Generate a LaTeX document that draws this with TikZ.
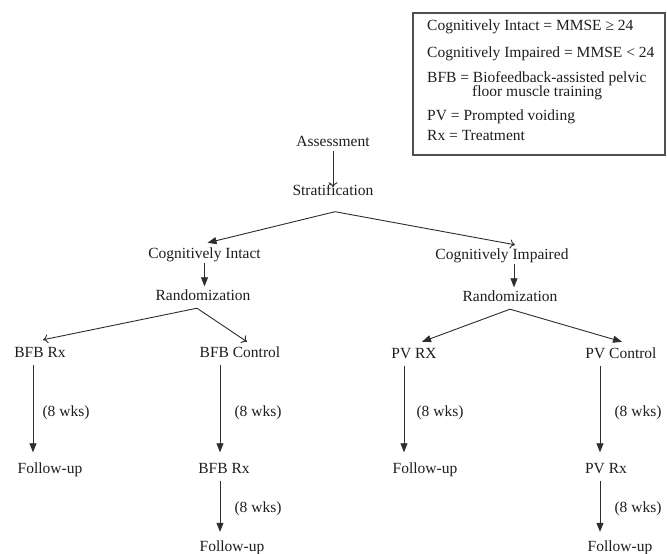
\documentclass[tikz,border=0pt]{standalone}
\usepackage{fontspec}
\setmainfont{Liberation Serif}
\usetikzlibrary{arrows.meta}
\definecolor{drawColor}{RGB}{45,45,45}
\definecolor{textColor}{RGB}{30,30,30}
\definecolor{boxColor}{RGB}{80,80,80}
\tikzset{
  lbl/.style={text=textColor,inner sep=1pt,text height=10pt,text depth=3pt,font=\fontsize{15.5}{18}\selectfont},
  leg/.style={lbl,anchor=west,inner sep=0pt,text height=9pt,text depth=2pt},
  openarr/.style={draw=drawColor,line width=0.9pt,-{To[length=5pt,width=9pt]}},
  fillarr/.style={draw=drawColor,line width=0.9pt,-{Triangle[length=9pt,width=7pt]}},
  downarr/.style={fillarr,shorten <=3pt,shorten >=10pt}
}
\begin{document}
\begin{tikzpicture}[x=1pt,y=1pt]
\path[use as bounding box,fill=white] (0,0) rectangle (667,554);

\path[draw=boxColor,line width=1.1pt] (413,399) rectangle (665,541);
\node[leg] (lega) at (427,527) {Cognitively Intact = MMSE ≥ 24};
\node[leg] (legb) at (427,500) {Cognitively Impaired = MMSE < 24};
\node[leg] (legc) at (427,475) {BFB = Biofeedback-assisted pelvic};
\node[leg] (legd) at (472,461) {floor muscle training};
\node[leg] (lege) at (427,437) {PV = Prompted voiding};
\node[leg] (legf) at (427,417) {Rx = Treatment};

\node[lbl] (assess) at (333,411) {Assessment};
\node[lbl] (strat) at (333,362) {Stratification};
\node[lbl] (intact) at (204.5,299) {Cognitively Intact};
\node[lbl] (impair) at (502,298) {Cognitively Impaired};
\node[lbl] (randl) at (203,257) {Randomization};
\node[lbl] (randr) at (510,256) {Randomization};
\node[lbl] (bfbrx) at (40,199.5) {BFB Rx};
\node[lbl] (bfbctl) at (240,199.5) {BFB Control};
\node[lbl] (pvrx) at (414,199) {PV RX};
\node[lbl] (pvctl) at (621,199) {PV Control};
\node[lbl] (fua) at (50,84) {Follow-up};
\node[lbl] (bfbrxb) at (224,84) {BFB Rx};
\node[lbl] (fub) at (232,6) {Follow-up};
\node[lbl] (fuc) at (425,84) {Follow-up};
\node[lbl] (pvrxb) at (606,84) {PV Rx};
\node[lbl] (fud) at (620,6) {Follow-up};

\node[lbl] (wka) at (66,141) {(8 wks)};
\node[lbl] (wkb) at (258,141) {(8 wks)};
\node[lbl] (wkc) at (258,45) {(8 wks)};
\node[lbl] (wkd) at (440,141) {(8 wks)};
\node[lbl] (wke) at (638,141) {(8 wks)};
\node[lbl] (wkf) at (638,45) {(8 wks)};

\coordinate (sfork) at ([xshift=2,yshift=-12]strat.south);
\coordinate (lfork) at ([xshift=-6,yshift=-3.5]randl.south);
\coordinate (rfork) at ([yshift=-3.5]randr.south);

\draw[openarr,shorten >=-3pt] (assess.south) -- (strat.north);
\draw[fillarr] (sfork) -- ([xshift=3,yshift=4.5]intact.north);
\draw[openarr] (sfork) -- ([xshift=13,yshift=3.5]impair.north);

\draw[fillarr,shorten >=3pt] (intact.south) -- (intact.south |- randl.north);
\draw[fillarr,shorten >=3pt] ([xshift=12]impair.south) -- ([xshift=12]impair.south |- randr.north);

\draw[openarr] (lfork) -- ([xshift=3,yshift=7]bfbrx.north);
\draw[openarr] (lfork) -- ([xshift=7,yshift=5]bfbctl.north);
\draw[fillarr] (rfork) -- ([xshift=8,yshift=5.5]pvrx.north);
\draw[fillarr] (rfork) -- ([xshift=1,yshift=5.5]pvctl.north);

\draw[downarr] ([xshift=-7]bfbrx.south) -- ([xshift=-7]bfbrx.south |- fua.north);
\draw[downarr] ([xshift=-20]bfbctl.south) -- ([xshift=-20]bfbctl.south |- bfbrxb.north);
\draw[downarr,shorten >=8.5pt] ([xshift=-4]bfbrxb.south) -- ([xshift=-4]bfbrxb.south |- fub.north);
\draw[downarr] ([xshift=-10]pvrx.south) -- ([xshift=-10]pvrx.south |- fuc.north);
\draw[downarr] ([xshift=-21]pvctl.south) -- ([xshift=-21]pvctl.south |- pvrxb.north);
\draw[downarr,shorten >=8.5pt] ([xshift=-6]pvrxb.south) -- ([xshift=-6]pvrxb.south |- fud.north);
\end{tikzpicture}
\end{document}
